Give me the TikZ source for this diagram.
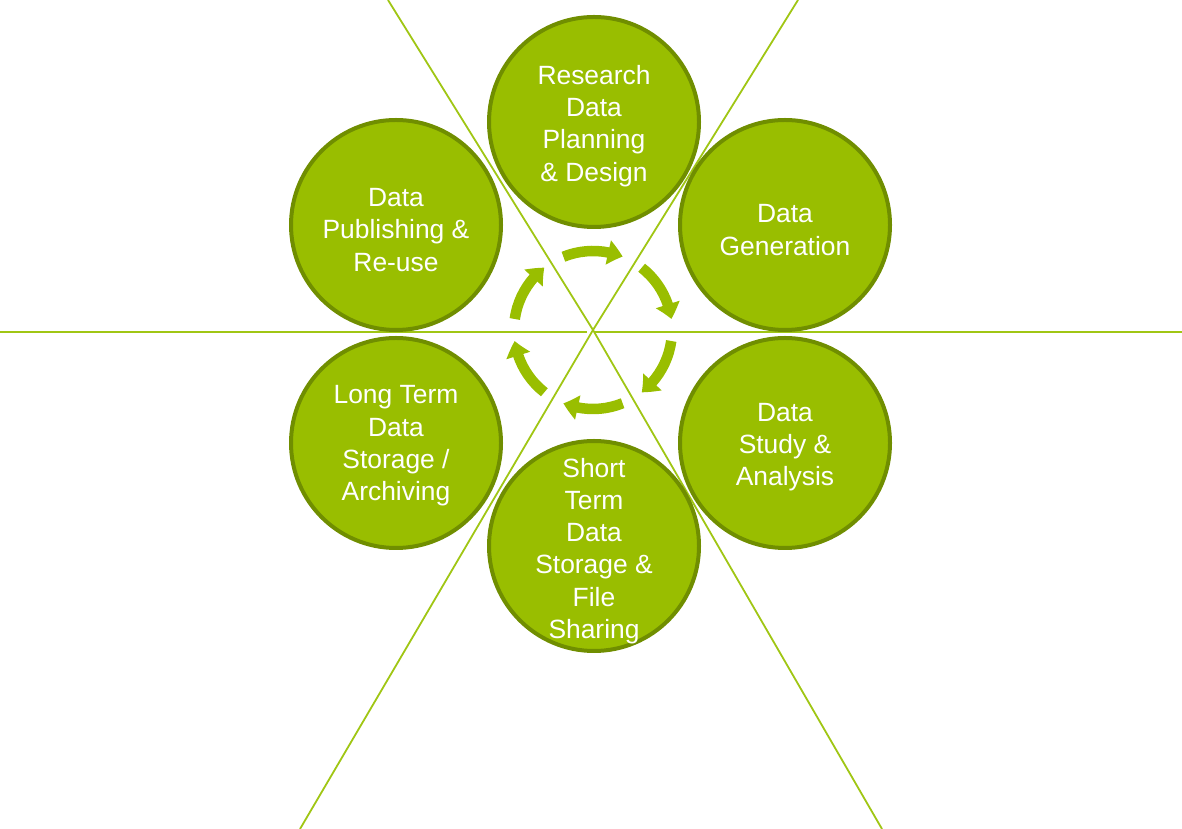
\documentclass[tikz,border=0pt]{standalone}
\usepackage{fontspec}
\setmainfont{Liberation Sans}
\usetikzlibrary{arrows.meta,bending}
\definecolor{gfill}{RGB}{153,190,0}
\definecolor{gline}{RGB}{112,142,0}
\definecolor{rayc}{RGB}{160,198,20}
\begin{document}
\begin{tikzpicture}[x=1pt,y=1pt,
  circ/.style={circle,draw=gline,line width=4pt,fill=gfill,minimum size=210pt,inner sep=0pt},
  lbl/.style={text=white,align=center,inner sep=0pt,font=\fontsize{26.4}{32.3}\selectfont},
  ray/.style={draw=rayc,line width=1.8pt},
  cyc/.style={draw=gfill,line width=10.5pt,-{Triangle[width=24pt,length=15pt,bend]}}]
\useasboundingbox (0,0) rectangle (1182,829);
% rays
\coordinate (c) at (593,499);
\coordinate (tl) at (388,829);
\coordinate (tr) at (798,829);
\coordinate (bl) at (300,0);
\coordinate (br) at (882,0);
\coordinate (hl) at (0,497);
\coordinate (hlc) at (587,497);
\coordinate (hrc) at (595,497);
\coordinate (hr) at (1182,497);
\draw[ray] (c) -- (tl);
\draw[ray] (c) -- (tr);
\draw[ray] (c) -- (bl);
\draw[ray] (c) -- (br);
\draw[ray] (hl) -- (hlc);
\draw[ray] (hrc) -- (hr);
% circles
\node[circ] (plan) at (594,707) {};
\node[circ] (gen) at (785,604) {};
\node[circ] (study) at (785,386) {};
\node[circ] (short) at (594,283) {};
\node[circ] (long) at (396,386) {};
\node[circ] (pub) at (396,604) {};
% labels
\node[lbl] (tplan) at (594,703) {Research\\Data\\Planning\\\& Design};
\node[lbl] (tgen) at (785,599) {Data\\Generation};
\node[lbl] (tstudy) at (785,382) {Data\\Study \&\\Analysis};
\node[lbl] (tshort) at (594,278) {Short\\Term\\Data\\Storage \&\\File\\Sharing};
\node[lbl] (tlong) at (396,383) {Long Term\\Data\\Storage /\\Archiving};
\node[lbl] (tpub) at (396,599) {Data\\Publishing \&\\Re-use};
% cycle arrows
\foreach \a in {90,30,-30,-90,-150,150}
  \draw[cyc] ([shift={(\a+22:79)}]c) arc[start angle=\a+22, end angle=\a-22, radius=79];
\end{tikzpicture}
\end{document}
